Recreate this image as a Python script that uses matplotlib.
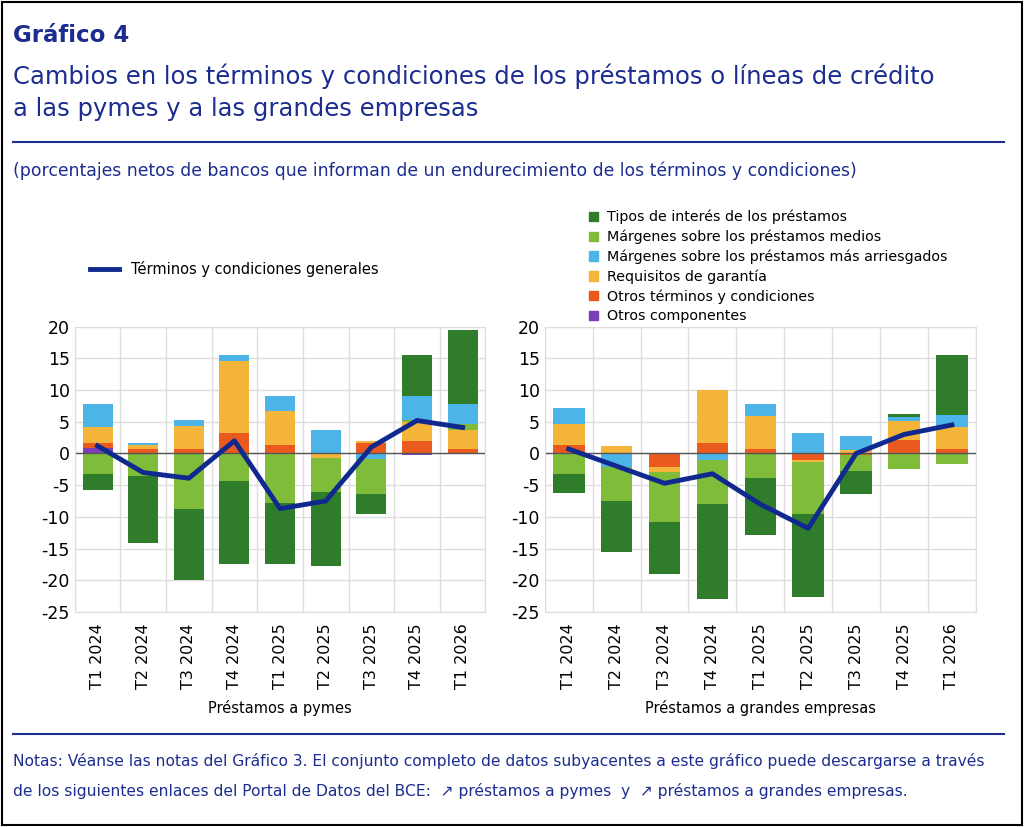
import matplotlib
matplotlib.use("Agg")
import matplotlib.pyplot as plt
import numpy as np
plt.rcParams["axes.unicode_minus"] = False

quarters = ["T1 2024","T2 2024","T3 2024","T4 2024","T1 2025","T2 2025","T3 2025","T4 2025","T1 2026"]
series_names = ["Tipos de interés de los préstamos","Márgenes sobre los préstamos medios",
                "Márgenes sobre los préstamos más arriesgados","Requisitos de garantía",
                "Otros términos y condiciones","Otros componentes"]
line_name = "Términos y condiciones generales"

# left: pymes
pymes_tipos = [-2.5,-10.6,-11.2,-13.1,-9.7,-11.6,-3.2,6.6,11.7]
pymes_medios = [-3.2,-3.5,-8.8,-4.3,-7.8,-5.4,-5.6,0.3,1.0]
pymes_arriesg = [3.7,0.3,1.0,0.9,2.4,3.7,-0.8,3.7,3.1]
pymes_garantia = [2.4,0.7,3.6,11.4,5.4,-0.7,0.3,3.0,3.0]
pymes_otros_tc = [0.9,0.7,0.7,3.2,1.3,0.0,1.7,2.0,0.7]
pymes_otros_comp = [0.8,0,0,0,0,0,0,-0.3,0]
pymes_general = [1.2,-3.0,-3.9,2.0,-8.7,-7.5,1.0,5.2,4.1]

# right: grandes empresas
gr_tipos = [-3.0,-8.0,-8.2,-15.0,-9.0,-13.0,-3.6,0.5,9.4]
gr_medios = [-3.2,-5.3,-7.8,-6.9,-3.9,-8.2,-2.5,-2.5,-1.7]
gr_arriesg = [2.5,-2.2,0,-1.1,1.9,3.3,2.3,0.6,1.9]
gr_garantia = [3.3,1.1,-0.8,8.3,5.2,-0.3,0.5,3.1,3.5]
gr_otros_tc = [1.3,0,-2.2,1.7,0.7,-1.1,-0.3,2.1,0.7]
gr_otros_comp = [0,0,0,0,0,0,0,0,0]
gr_general = [0.7,-2.0,-4.7,-3.2,-8.0,-11.8,0.0,3.0,4.5]

colors = ["#2f7d2b","#7fbc3a","#4db4e8","#f5b43a","#ea5a1e","#7a3fb8"]
line_color = "#10298f"
navy = "#1c2d8f"

fig = plt.figure(figsize=(10.24,8.27), dpi=100)
fig.patch.set_facecolor("white")
fig.add_artist(plt.Rectangle((0.002,0.002),0.996,0.996, transform=fig.transFigure, fill=False, ec="black", lw=1.5))
fig.text(0.013,0.957,"Gráfico 4", color=navy, fontsize=16.5, fontweight="bold", va="center")
fig.text(0.013,0.908,"Cambios en los términos y condiciones de los préstamos o líneas de crédito", color=navy, fontsize=17.5, va="center")
fig.text(0.013,0.868,"a las pymes y a las grandes empresas", color=navy, fontsize=17.5, va="center")
fig.add_artist(plt.Line2D([0.013,0.98],[0.828,0.828], color=navy, lw=1.5))
fig.text(0.013,0.793,"(porcentajes netos de bancos que informan de un endurecimiento de los términos y condiciones)", color=navy, fontsize=12.4, va="center")
fig.add_artist(plt.Line2D([0.013,0.98],[0.113,0.113], color=navy, lw=1.5))
fig.text(0.013,0.080,"Notas: Véanse las notas del Gráfico 3. El conjunto completo de datos subyacentes a este gráfico puede descargarse a través", color=navy, fontsize=11.2, va="center")
fig.text(0.013,0.044,"de los siguientes enlaces del Portal de Datos del BCE:  \u2197 préstamos a pymes  y  \u2197 préstamos a grandes empresas.", color=navy, fontsize=11.2, va="center")

pos_order = [5,4,3,1,2,0]
neg_order = [5,4,3,2,1,0]

def draw(ax, data, general, xlabel):
    x = np.arange(len(quarters))
    pb = np.zeros(len(x)); nb = np.zeros(len(x))
    for i in pos_order:
        v = np.array(data[i]); vp = np.where(v>0, v, 0)
        ax.bar(x, vp, 0.66, bottom=pb, color=colors[i], zorder=2); pb += vp
    for i in neg_order:
        v = np.array(data[i]); vn = np.where(v<0, v, 0)
        ax.bar(x, vn, 0.66, bottom=nb, color=colors[i], zorder=2); nb += vn
    ax.plot(x, general, color=line_color, lw=3.5, zorder=3)
    ax.axhline(0, color="#555555", lw=1, zorder=2.5)
    ax.set_ylim(-25,20); ax.set_yticks(range(-25,21,5))
    ax.set_xlim(-0.5,len(x)-0.5)
    ax.set_xticks(np.arange(len(x)+1)-0.5, minor=False)
    ax.set_xticklabels([]); ax.tick_params(axis="x", length=0)
    ax.set_xticks(x, minor=True)
    ax.set_xticklabels(quarters, minor=True, rotation=90, fontsize=11.5)
    ax.tick_params(axis="x", which="minor", length=0, pad=8)
    ax.grid(True, color="#dddddd", lw=1, zorder=0)
    ax.tick_params(axis="y", labelsize=12.5, length=0)
    for s in ax.spines.values(): s.set_color("#dddddd")
    ax.set_xlabel(xlabel, fontsize=10.5, labelpad=8)

ax1 = fig.add_axes([0.073,0.260,0.401,0.345])
ax2 = fig.add_axes([0.532,0.260,0.421,0.345])
draw(ax1, [pymes_tipos,pymes_medios,pymes_arriesg,pymes_garantia,pymes_otros_tc,pymes_otros_comp], pymes_general, "Préstamos a pymes")
draw(ax2, [gr_tipos,gr_medios,gr_arriesg,gr_garantia,gr_otros_tc,gr_otros_comp], gr_general, "Préstamos a grandes empresas")

from matplotlib.lines import Line2D
from matplotlib.patches import Patch
fig.legend([Line2D([0],[0],color=line_color,lw=3.5)],[line_name], loc="center left",
           bbox_to_anchor=(0.075,0.675), frameon=False, fontsize=10.5, handlelength=2)
fig.legend([Patch(color=c) for c in colors], series_names, loc="upper left",
           bbox_to_anchor=(0.563,0.762), frameon=False, fontsize=10.3,
           handlelength=0.6, handleheight=0.6, labelspacing=0.38, handletextpad=0.6)
fig.savefig("out.png", dpi=100)
